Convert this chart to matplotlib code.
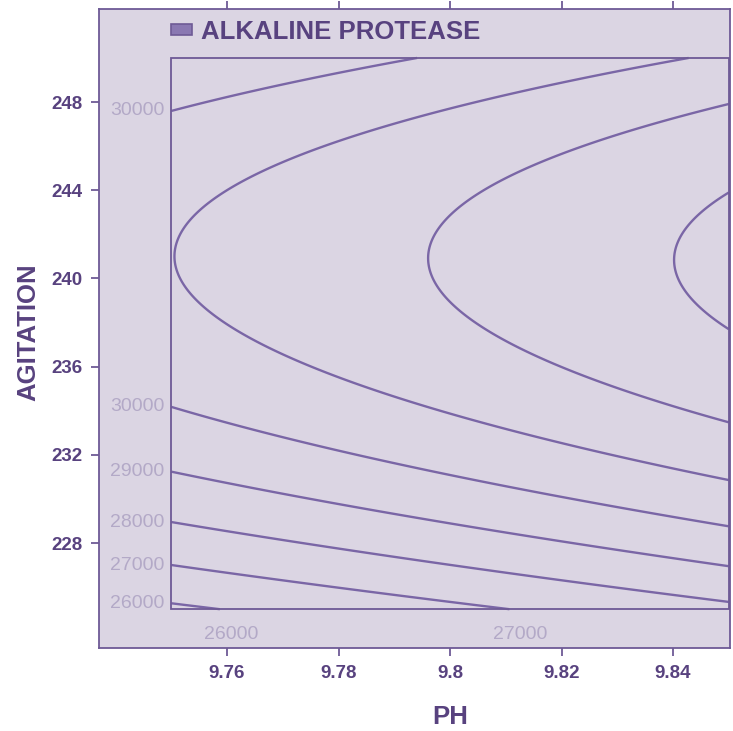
import numpy as np
import matplotlib
matplotlib.use("Agg")
import matplotlib.pyplot as plt
from matplotlib.patches import Rectangle, Patch

plt.rcParams['font.family'] = ['Liberation Sans', 'DejaVu Sans']

# response surface for alkaline protease (coded units)
# X = (pH - 9.80) / 0.05 ,  Y = (agitation - 237.5) / 12.5
ph_center, ph_step = 9.80, 0.05
agit_center, agit_step = 237.5, 12.5
b0 = 31827.6
b_lin = [1123.9, 1890.7]      # X, Y
b_sq = [19.0, -3372.2]        # X^2, Y^2
b_int = 19.2                  # X*Y
b_y3 = -226.8                 # Y^3
b_xy2 = -130.5                # X*Y^2

ph_range = [9.75, 9.85]
agit_range = [225, 250]
levels = [26000, 27000, 28000, 29000, 30000, 31000, 32000, 33000]

ph_ticks = [9.76, 9.78, 9.80, 9.82, 9.84]
ph_ticklabels = ['9.76', '9.78', '9.8', '9.82', '9.84']
agit_ticks = [228, 232, 236, 240, 244, 248]

bg = '#dbd5e3'
frame = '#6e5a96'
line_col = '#7a66a6'
text_col = '#58427f'
lab_col = '#b3a9c7'

ph = np.linspace(ph_range[0], ph_range[1], 400)
agit = np.linspace(agit_range[0], agit_range[1], 400)
PH, AG = np.meshgrid(ph, agit)
X = (PH - ph_center) / ph_step
Y = (AG - agit_center) / agit_step
Z = (b0 + b_lin[0]*X + b_lin[1]*Y + b_sq[0]*X**2 + b_sq[1]*Y**2 + b_int*X*Y
     + b_y3*Y**3 + b_xy2*X*Y**2)

W, H = 733, 731
fig = plt.figure(figsize=(W/100, H/100), dpi=100)
ax = fig.add_axes([99/W, (H-648)/H, (730-99)/W, (648-9)/H])
ax.set_facecolor(bg)
ax.set_xlim(9.73704, 9.85022)
ax.set_ylim(223.24, 252.22)

cs = ax.contour(PH, AG, Z, levels=levels, colors=line_col, linewidths=1.7)
ax.add_patch(Rectangle((ph_range[0], agit_range[0]), ph_range[1]-ph_range[0],
                       agit_range[1]-agit_range[0], fill=False, ec=frame, lw=1.3, zorder=3))

# contour labels where lines leave the box on the left and bottom
for lev, segs in zip(cs.levels, cs.allsegs):
    for seg in segs:
        for px, py in (seg[0], seg[-1]):
            if abs(px - ph_range[0]) < 1e-6:
                ax.annotate(str(int(lev)), xy=(px, py), xytext=(-5, 0), textcoords='offset points',
                            ha='right', va='center', fontsize=14, color=lab_col, annotation_clip=False)
            elif abs(py - agit_range[0]) < 1e-6:
                ax.annotate(str(int(lev)), xy=(px, py), xytext=(8, -18), textcoords='offset points',
                            ha='center', va='center', fontsize=14, color=lab_col, annotation_clip=False)

for s in ax.spines.values():
    s.set_color(frame)
    s.set_linewidth(1.3)

ax.set_xticks(ph_ticks)
ax.set_xticklabels(ph_ticklabels)
ax.set_yticks(agit_ticks)
ax.tick_params(direction='out', length=6, width=1.3, color=frame, labelcolor=text_col,
               labelsize=13.5, top=True, pad=6)
for t in ax.get_xticklabels() + ax.get_yticklabels():
    t.set_fontweight('bold')

fig.text(450/W, 1 - 717/H, 'PH', ha='center', va='center', fontsize=18.5,
         fontweight='bold', color=text_col)
fig.text(28/W, 1 - 332/H, 'AGITATION', ha='center', va='center', rotation=90,
         fontsize=18.5, fontweight='bold', color=text_col)

handle = Patch(facecolor='#8a78b2', edgecolor=frame, linewidth=1.2)
fig.legend([handle], ['ALKALINE PROTEASE'], loc='center left',
           bbox_to_anchor=(171/W, 1 - 32/H), frameon=False, borderpad=0, borderaxespad=0,
           handlelength=0.8, handleheight=0.3, handletextpad=0.35,
           prop={'size': 18.5, 'weight': 'bold'}, labelcolor=text_col)

fig.savefig('out.png', dpi=100)
